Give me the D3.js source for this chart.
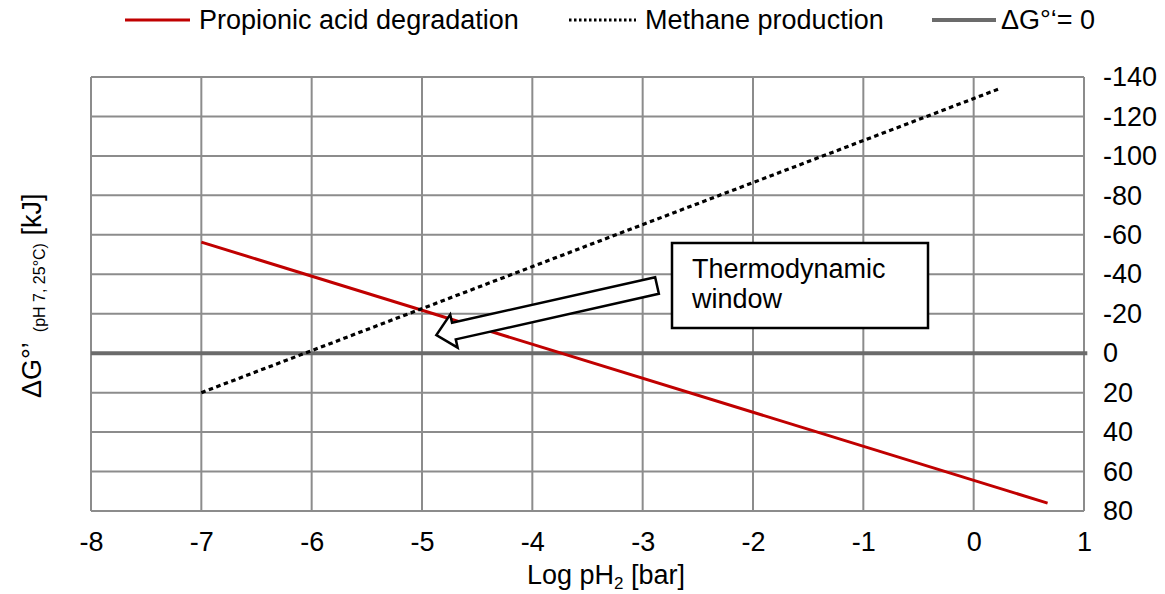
<!DOCTYPE html>
<html>
<head>
<meta charset="utf-8">
<script src="https://cdn.jsdelivr.net/npm/d3@7"></script>
<style>
  body { margin: 0; background: #fff; }
  svg text { font-family: "Liberation Sans", Arial, sans-serif; fill: #000; }
</style>
</head>
<body>
<div id="chart"></div>
<script>
// axis ticks
var xTicks = [-8, -7, -6, -5, -4, -3, -2, -1, 0, 1];
var yTicks = [-140, -120, -100, -80, -60, -40, -20, 0, 20, 40, 60, 80];

// series (log pH2, dG in kJ)
var propionicX = [-7, 0.67];
var propionicY = [-56.3, 76];
var methaneX = [-7, 0.25];
var methaneY = [20, -134.4];
var zeroX = [-8, 1.03];
var zeroY = [0, 0];

// annotation arrow (data coords): tail -> tip
var arrowX = [-2.87, -4.87];
var arrowY = [-34.3, -9.2];

var WIDTH = 1165, HEIGHT = 594;
var plot = {left: 91, right: 1084, top: 77, bottom: 511};
var FONT = 27;

var svg = d3.select("#chart").append("svg")
    .attr("width", WIDTH)
    .attr("height", HEIGHT);

var x = d3.scaleLinear().domain([-8, 1]).range([plot.left, plot.right]);
var y = d3.scaleLinear().domain([-140, 80]).range([plot.top, plot.bottom]);

// grid
var grid = svg.append("g").attr("class", "grid");
grid.selectAll("line.v").data(xTicks).enter().append("line")
    .attr("x1", function (d) { return x(d); })
    .attr("x2", function (d) { return x(d); })
    .attr("y1", plot.top).attr("y2", plot.bottom)
    .attr("stroke", "#8c8c8c").attr("stroke-width", 2);
grid.selectAll("line.h").data(yTicks).enter().append("line")
    .attr("x1", plot.left).attr("x2", plot.right)
    .attr("y1", function (d) { return y(d); })
    .attr("y2", function (d) { return y(d); })
    .attr("stroke", "#8c8c8c").attr("stroke-width", 2);

// tick labels via d3 axes
var fmt = function (d) { return d < 0 ? "-" + Math.abs(d) : d; };

var xAxis = svg.append("g")
    .attr("transform", "translate(0," + plot.bottom + ")")
    .call(d3.axisBottom(x).tickValues(xTicks).tickSize(0).tickPadding(21).tickFormat(fmt));
xAxis.select(".domain").remove();
xAxis.selectAll("text").attr("font-size", FONT).attr("fill", "#000")
    .attr("font-family", "Liberation Sans, Arial, sans-serif");

var yAxis = svg.append("g")
    .attr("transform", "translate(" + plot.right + ",0)")
    .call(d3.axisRight(y).tickValues(yTicks).tickSize(0).tickPadding(19).tickFormat(fmt));
yAxis.select(".domain").remove();
yAxis.selectAll("text").attr("font-size", FONT).attr("fill", "#000")
    .attr("font-family", "Liberation Sans, Arial, sans-serif");

var line = d3.line()
    .x(function (d) { return x(d[0]); })
    .y(function (d) { return y(d[1]); });

// zero line
svg.append("path")
    .datum(d3.zip(zeroX, zeroY))
    .attr("d", line)
    .attr("fill", "none")
    .attr("stroke", "#6b6b6b")
    .attr("stroke-width", 4);

// propionic acid
svg.append("path")
    .datum(d3.zip(propionicX, propionicY))
    .attr("d", line)
    .attr("fill", "none")
    .attr("stroke", "#c00000")
    .attr("stroke-width", 3);

// methane
svg.append("path")
    .datum(d3.zip(methaneX, methaneY))
    .attr("d", line)
    .attr("fill", "none")
    .attr("stroke", "#000")
    .attr("stroke-width", 3.2)
    .attr("stroke-dasharray", "4.5,3.5");

// annotation: block arrow
var tail = [x(arrowX[0]), y(arrowY[0])];
var tip = [x(arrowX[1]), y(arrowY[1])];
var dx = tip[0] - tail[0], dy = tip[1] - tail[1];
var len = Math.sqrt(dx * dx + dy * dy);
var ux = dx / len, uy = dy / len;
var nx = -uy, ny = ux;
var shaftW = 8.5, headW = 17, headL = 18;
var base = [tip[0] - ux * headL, tip[1] - uy * headL];
var pts = [
    [tail[0] + nx * shaftW, tail[1] + ny * shaftW],
    [base[0] + nx * shaftW, base[1] + ny * shaftW],
    [base[0] + nx * headW, base[1] + ny * headW],
    tip,
    [base[0] - nx * headW, base[1] - ny * headW],
    [base[0] - nx * shaftW, base[1] - ny * shaftW],
    [tail[0] - nx * shaftW, tail[1] - ny * shaftW]
];
svg.append("path")
    .attr("d", "M" + pts.map(function (p) { return p.join(","); }).join("L") + "Z")
    .attr("fill", "#fff")
    .attr("stroke", "#000")
    .attr("stroke-width", 2.5)
    .attr("stroke-linejoin", "miter");

// annotation: text box
var box = svg.append("g").attr("transform", "translate(672,243)");
box.append("rect")
    .attr("width", 256).attr("height", 85)
    .attr("fill", "#fff").attr("stroke", "#000").attr("stroke-width", 2.5);
box.append("text").attr("x", 20).attr("y", 35).attr("font-size", FONT).text("Thermodynamic");
box.append("text").attr("x", 20).attr("y", 65).attr("font-size", FONT).text("window");

// x title
var xt = svg.append("text")
    .attr("x", 606).attr("y", 584)
    .attr("text-anchor", "middle")
    .attr("font-size", FONT);
xt.append("tspan").text("Log pH");
xt.append("tspan").attr("font-size", 17).attr("dy", 5).text("2");
xt.append("tspan").attr("dy", -5).text(" [bar]");

// y title
var yt = svg.append("text")
    .attr("transform", "translate(41,398) rotate(-90)")
    .attr("text-anchor", "start")
    .attr("font-size", FONT);
yt.append("tspan").text("ΔG°’");
yt.append("tspan").attr("font-size", 16).attr("dx", 10).attr("dy", 4).text("(pH 7, 25°C)");
yt.append("tspan").attr("dy", -4).text(" [kJ]");

// legend
var legendItems = [
    {label: "Propionic acid degradation", x1: 125, x2: 190, tx: 199, stroke: "#c00000", w: 3, dash: null},
    {label: "Methane production", x1: 569, x2: 636, tx: 645, stroke: "#000", w: 3, dash: "2.5,2.5"},
    {label: "ΔG°‘= 0", x1: 932, x2: 996, tx: 1001, stroke: "#6b6b6b", w: 4, dash: null}
];
var legend = svg.append("g").attr("class", "legend");
legendItems.forEach(function (it) {
    legend.append("line")
        .attr("x1", it.x1).attr("x2", it.x2)
        .attr("y1", 20).attr("y2", 20)
        .attr("stroke", it.stroke).attr("stroke-width", it.w)
        .attr("stroke-dasharray", it.dash);
    legend.append("text")
        .attr("x", it.tx).attr("y", 29)
        .attr("font-size", FONT)
        .text(it.label);
});
</script>
</body>
</html>
